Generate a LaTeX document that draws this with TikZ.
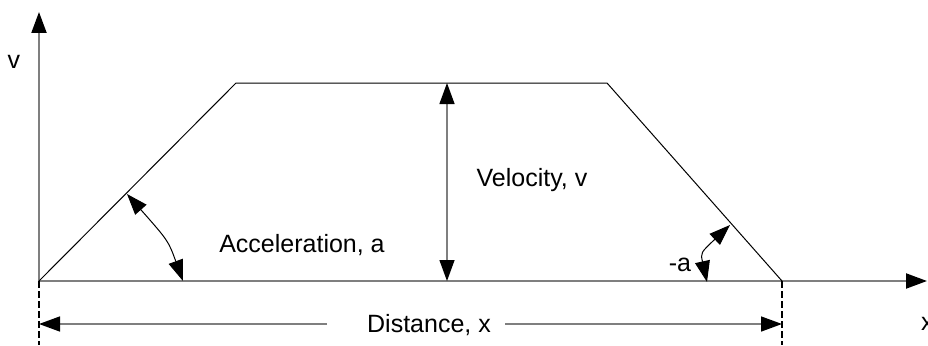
\documentclass[tikz,border=0pt]{standalone}
\usepackage{fontspec}
\setmainfont{Liberation Sans}
\usetikzlibrary{arrows.meta}
\definecolor{axisgray}{HTML}{7F7F7F}
\tikzset{
  tip/.tip={Triangle[length=21pt,width=15pt,color=black]},
  axisline/.style={draw=axisgray,line width=2pt,-tip},
  dimline/.style={draw=axisgray,line width=1.5pt,-tip},
  velline/.style={draw=axisgray,line width=1.3pt,tip-tip},
  profile/.style={draw=black,line width=1pt},
  anglearc/.style={draw=black,line width=1pt,tip-tip},
  guide/.style={draw=black,line width=1.5pt,dash pattern=on 7pt off 3pt},
  lbl/.style={font=\fontsize{25}{30}\selectfont,inner sep=0pt}
}
\begin{document}
\begin{tikzpicture}[x=1pt,y=-1pt]
\useasboundingbox (0,0) rectangle (928,345);
% key points
\coordinate (O) at (39,281);
\coordinate (Ytip) at (39,12);
\coordinate (Xtip) at (927,281);
\coordinate (P1) at (236,83);
\coordinate (P2) at (607,83);
\coordinate (P3) at (782,281);
\coordinate (Vtop) at (447,83);
\coordinate (Vbot) at (447,281);
\coordinate (G1) at (39,345);
\coordinate (G2) at (782,345);
\coordinate (DL) at (39,324);
\coordinate (DR) at (782,324);
\coordinate (Dl) at (327,324);
\coordinate (Dr) at (505,324);
\coordinate (A1) at (127,194);
\coordinate (A2) at (183,281);
\coordinate (B1) at (730,225);
\coordinate (B2) at (707,282);
% axes
\draw[axisline] (O) -- (Ytip);
\draw[axisline] (O) -- (Xtip);
% velocity profile
\draw[profile] (O) -- (P1) -- (P2) -- (P3);
% guides
\draw[guide] (O) -- (G1);
\draw[guide] (P3) -- (G2);
% velocity arrow
\draw[velline] (Vbot) -- (Vtop);
% distance
\draw[dimline] (Dl) -- (DL);
\draw[dimline] (Dr) -- (DR);
% angle arcs
\draw[anglearc] (A1) .. controls (168.3,240.8) .. (A2);
\draw[anglearc] (B1) .. controls (700.5,252.8) .. (B2);
% labels
\node[lbl] (lv) at (14,62) {v};
\node[lbl] (lx) [anchor=west] at (921,324) {x};
\node[lbl] (lacc) at (302,245) {Acceleration, a};
\node[lbl] (lvel) at (532,180) {Velocity, v};
\node[lbl] (lneg) at (680,265) {-a};
\node[lbl] (ldist) at (429,325) {Distance, x};
\end{tikzpicture}
\end{document}
